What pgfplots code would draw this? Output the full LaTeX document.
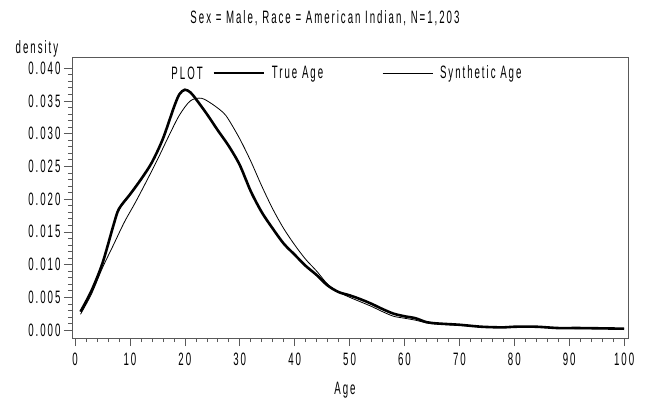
\documentclass[border=0pt]{standalone}
\usepackage{fontspec}
\setmainfont[FakeStretch=0.54, LetterSpace=11]{Liberation Sans}
\usepackage{pgfplots}
\pgfplotsset{compat=1.18}

% true age density
\pgfplotstableread{
x y
1 0.0028
3 0.0060
5 0.0102
7 0.0160
8 0.0185
10 0.0207
12 0.0230
14 0.0256
16 0.0292
18 0.0340
19 0.0360
20 0.0367
21 0.0363
22 0.0353
24 0.0330
26 0.0305
28 0.0281
30 0.0252
32 0.0212
34 0.0180
36 0.0155
38 0.0132
40 0.0115
42 0.0098
44 0.0084
46 0.0068
48 0.0058
50 0.0053
52 0.0047
54 0.0040
56 0.0032
58 0.0025
60 0.0021
62 0.0018
64 0.0012
66 0.0010
70 0.0008
74 0.0005
78 0.0004
80 0.0005
84 0.0005
88 0.0003
92 0.0003
100 0.0002
}\trueage

% synthetic age density
\pgfplotstableread{
x y
1 0.0024
3 0.0055
5 0.0095
7 0.0130
9 0.0165
11 0.0195
13 0.0227
15 0.0260
17 0.0295
19 0.0328
21 0.0350
23 0.0354
25 0.0345
27 0.0332
28 0.0321
30 0.0292
32 0.0258
34 0.0220
36 0.0185
38 0.0155
40 0.0130
42 0.0108
44 0.0090
46 0.0070
48 0.0058
50 0.0050
52 0.0043
54 0.0036
56 0.0028
58 0.0021
60 0.0018
62 0.0015
64 0.0011
66 0.0009
70 0.0007
74 0.0005
78 0.0004
80 0.0004
84 0.0004
88 0.0003
92 0.0002
100 0.0002
}\synthage

\begin{document}
\begin{tikzpicture}
\useasboundingbox (-72bp,-75bp) rectangle (577bp,338bp);
\begin{axis}[
  at={(0,0)}, anchor=south west,
  scale only axis, width=556bp, height=281bp,
  xmin=-0.55, xmax=100.7,
  ymin=-0.00122, ymax=0.0417,
  axis line style={black!65, line width=0.6bp},
  xtick={0,10,20,30,40,50,60,70,80,90,100},
  ytick={0,0.005,0.010,0.015,0.020,0.025,0.030,0.035,0.040},
  minor x tick num=4, minor y tick num=4,
  tick align=outside, xtick pos=bottom, ytick pos=left,
  major tick length=8bp, minor tick length=4bp,
  tick style={black!65, line width=0.6bp},
  scaled y ticks=false,
  /pgf/number format/assume math mode=true,
  y tick label style={/pgf/number format/.cd, fixed, fixed zerofill, precision=3},
  x tick label style={yshift=-3bp},
  ticklabel style={font=\fontsize{18}{19}\selectfont},
  legend style={at={(0.252,0.943)}, anchor=west, draw=none, fill=none,
    inner sep=0pt, legend columns=2,
    font=\fontsize{18}{19}\selectfont,
    nodes={inner xsep=7bp},
    /tikz/every even column/.append style={column sep=52bp}},
  legend image code/.code={\draw[#1] (0bp,0bp) -- (50bp,0bp);},
]
\addplot[black, line width=2.6bp, smooth] table[x=x, y=y] {\trueage};
\addlegendentry{True Age}
\addplot[black, line width=0.8bp, smooth] table[x=x, y=y] {\synthage};
\addlegendentry{Synthetic Age}
\node[font=\fontsize{18}{19}\selectfont] at (rel axis cs:0.207,0.943) {PLOT};
\end{axis}
\node[font=\fontsize{18}{19}\selectfont] at (253bp,320bp) {Sex = Male, Race = American Indian, N=1,203};
\node[font=\fontsize{18}{19}\selectfont] at (-35bp,289bp) {density};
\node[font=\fontsize{18}{19}\selectfont] at (273bp,-52bp) {Age};
\end{tikzpicture}
\end{document}
